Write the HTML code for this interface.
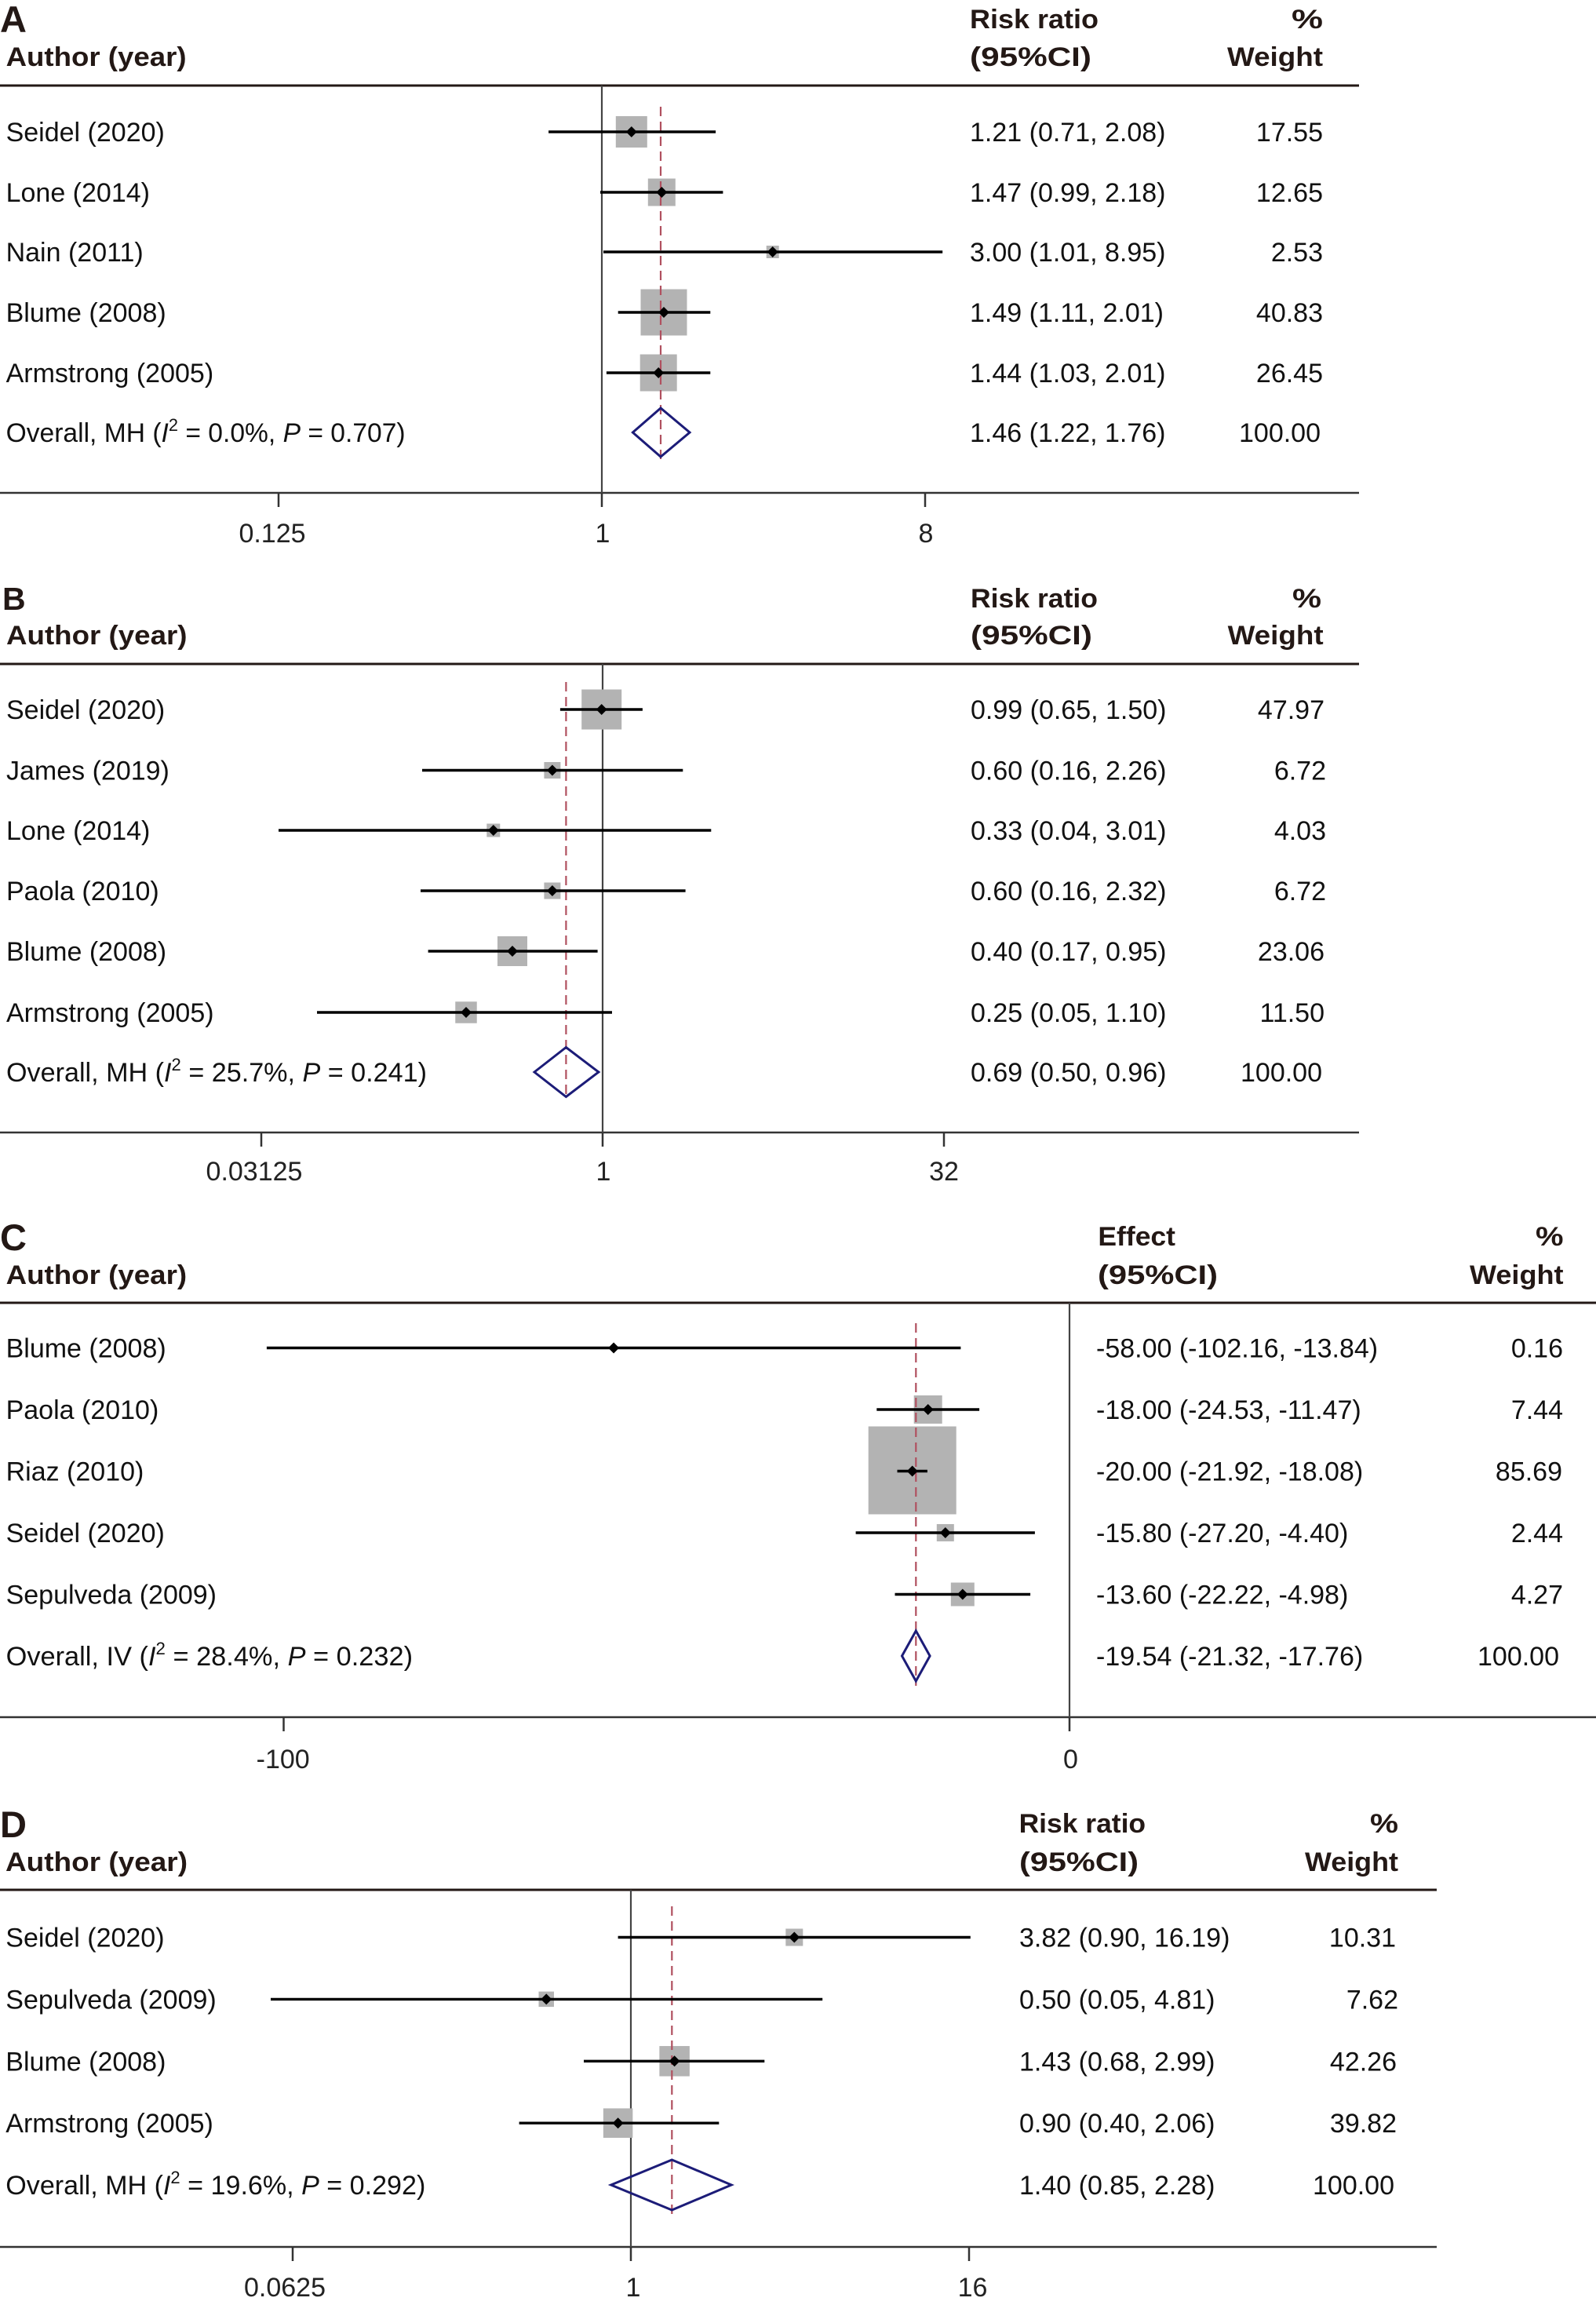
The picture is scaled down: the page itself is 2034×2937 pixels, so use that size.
<!DOCTYPE html>
<html><head><meta charset="utf-8"><style>
html,body{margin:0;padding:0;background:#fff;}
svg{display:block;}
text{font-family:"Liberation Sans",Arial,sans-serif;font-size:34px;fill:#111;}
.h{font-weight:bold;fill:#231815;}
.w{text-anchor:end;}
.t{text-anchor:middle;fill:#222;}
.ln{stroke:#231815;stroke-width:3;}
.ax{stroke:#333;stroke-width:2.5;}
.nl{stroke:#444;stroke-width:2.2;}
.ci{stroke:#000;stroke-width:3.4;}
.bx{fill:#b3b3b3;}
.ds{stroke:#b0505f;stroke-width:2.2;stroke-dasharray:12 7;}
.dm{fill:none;stroke:#1c1c78;stroke-width:3;}
.mk{fill:#000;}
.it{font-style:italic;}
.sup{font-size:22px;}
</style></head><body>
<svg width="2034" height="2937" viewBox="0 0 2034 2937" xmlns="http://www.w3.org/2000/svg">
<rect width="2034" height="2937" fill="#fff"/>

<!-- ========== PANEL A ========== -->
<text class="h" x="0" y="41" style="font-size:47px">A</text>
<text class="h" x="7.6" y="84" textLength="230" lengthAdjust="spacingAndGlyphs">Author (year)</text>
<text class="h" x="1236" y="36" textLength="164" lengthAdjust="spacingAndGlyphs">Risk ratio</text>
<text class="h" x="1236" y="84" textLength="155" lengthAdjust="spacingAndGlyphs">(95%CI)</text>
<text class="h" x="1646" y="36" textLength="40" lengthAdjust="spacingAndGlyphs">%</text>
<text class="h" x="1564" y="84" textLength="122" lengthAdjust="spacingAndGlyphs">Weight</text>
<line class="ln" x1="0" y1="109" x2="1732" y2="109"/>
<line class="ax" x1="0" y1="628" x2="1732" y2="628"/>
<line class="nl" x1="767" y1="109" x2="767" y2="628"/>
<line class="ax" x1="355" y1="628" x2="355" y2="646"/>
<line class="ax" x1="767" y1="628" x2="767" y2="646"/>
<line class="ax" x1="1179" y1="628" x2="1179" y2="646"/>
<text class="t" x="347" y="691">0.125</text>
<text class="t" x="768" y="691">1</text>
<text class="t" x="1180" y="691">8</text>
<rect class="bx" x="784.8" y="148" width="40" height="40"/>
<rect class="bx" x="825.8" y="227.5" width="35" height="35"/>
<rect class="bx" x="976.7" y="313" width="16" height="16"/>
<rect class="bx" x="816.5" y="368.5" width="59" height="59"/>
<rect class="bx" x="815.7" y="451.5" width="47" height="47"/>
<line class="ds" x1="842" y1="136" x2="842" y2="589"/>
<line class="ci" x1="699.1" y1="168" x2="912.1" y2="168"/>
<line class="ci" x1="765" y1="245" x2="921.4" y2="245"/>
<line class="ci" x1="769" y1="321" x2="1201.2" y2="321"/>
<line class="ci" x1="787.7" y1="398" x2="905.3" y2="398"/>
<line class="ci" x1="772.9" y1="475" x2="905.3" y2="475"/>
<polygon class="mk" points="797.8,168 804.8,161 811.8,168 804.8,175"/>
<polygon class="mk" points="836.3,245 843.3,238 850.3,245 843.3,252"/>
<polygon class="mk" points="977.7,321 984.7,314 991.7,321 984.7,328"/>
<polygon class="mk" points="839,398 846,391 853,398 846,405"/>
<polygon class="mk" points="832.2,475 839.2,468 846.2,475 839.2,482"/>
<polygon class="dm" points="806.4,551 842,520 879,551 842,582"/>
<text x="7.6" y="180">Seidel (2020)</text>
<text x="7.6" y="257">Lone (2014)</text>
<text x="7.6" y="333">Nain (2011)</text>
<text x="7.6" y="410">Blume (2008)</text>
<text x="7.6" y="487">Armstrong (2005)</text>
<text x="7.6" y="563" textLength="509" lengthAdjust="spacingAndGlyphs">Overall, MH (<tspan class="it">I</tspan><tspan class="sup" dy="-14">2</tspan><tspan dy="14"> = 0.0%, </tspan><tspan class="it">P</tspan> = 0.707)</text>
<text x="1236" y="180">1.21 (0.71, 2.08)</text>
<text x="1236" y="257">1.47 (0.99, 2.18)</text>
<text x="1236" y="333">3.00 (1.01, 8.95)</text>
<text x="1236" y="410">1.49 (1.11, 2.01)</text>
<text x="1236" y="487">1.44 (1.03, 2.01)</text>
<text x="1236" y="563">1.46 (1.22, 1.76)</text>
<text class="w" x="1686" y="180">17.55</text>
<text class="w" x="1686" y="257">12.65</text>
<text class="w" x="1686" y="333">2.53</text>
<text class="w" x="1686" y="410">40.83</text>
<text class="w" x="1686" y="487">26.45</text>
<text class="w" x="1683" y="563">100.00</text>

<!-- ========== PANEL B ========== -->
<text class="h" x="3" y="777" style="font-size:41px">B</text>
<text class="h" x="8" y="821" textLength="230.5" lengthAdjust="spacingAndGlyphs">Author (year)</text>
<text class="h" x="1237" y="774" textLength="162" lengthAdjust="spacingAndGlyphs">Risk ratio</text>
<text class="h" x="1237" y="821" textLength="155" lengthAdjust="spacingAndGlyphs">(95%CI)</text>
<text class="h" x="1647" y="774" textLength="37" lengthAdjust="spacingAndGlyphs">%</text>
<text class="h" x="1564.6" y="821" textLength="122" lengthAdjust="spacingAndGlyphs">Weight</text>
<line class="ln" x1="0" y1="846" x2="1732" y2="846"/>
<line class="ax" x1="0" y1="1443" x2="1732" y2="1443"/>
<line class="nl" x1="768" y1="846" x2="768" y2="1443"/>
<line class="ax" x1="333" y1="1443" x2="333" y2="1461"/>
<line class="ax" x1="768" y1="1443" x2="768" y2="1461"/>
<line class="ax" x1="1203" y1="1443" x2="1203" y2="1461"/>
<text class="t" x="324" y="1504">0.03125</text>
<text class="t" x="769" y="1504">1</text>
<text class="t" x="1203" y="1504">32</text>
<rect class="bx" x="741.2" y="878.5" width="51" height="51"/>
<rect class="bx" x="693.4" y="971" width="21" height="21"/>
<rect class="bx" x="620.3" y="1049.5" width="17" height="17"/>
<rect class="bx" x="693.4" y="1124.5" width="21" height="21"/>
<rect class="bx" x="634" y="1193" width="38" height="38"/>
<rect class="bx" x="580.25" y="1276.25" width="27.5" height="27.5"/>
<line class="ds" x1="721.4" y1="869" x2="721.4" y2="1396"/>
<line class="ci" x1="713.9" y1="904" x2="818.9" y2="904"/>
<line class="ci" x1="538" y1="981.5" x2="870.3" y2="981.5"/>
<line class="ci" x1="355" y1="1058" x2="906.3" y2="1058"/>
<line class="ci" x1="536" y1="1135" x2="873.6" y2="1135"/>
<line class="ci" x1="545.6" y1="1212" x2="761.6" y2="1212"/>
<line class="ci" x1="404" y1="1290" x2="780" y2="1290"/>
<polygon class="mk" points="759.7,904 766.7,897 773.7,904 766.7,911"/>
<polygon class="mk" points="696.9,981.5 703.9,974.5 710.9,981.5 703.9,988.5"/>
<polygon class="mk" points="621.8,1058 628.8,1051 635.8,1058 628.8,1065"/>
<polygon class="mk" points="696.9,1135 703.9,1128 710.9,1135 703.9,1142"/>
<polygon class="mk" points="646,1212 653,1205 660,1212 653,1219"/>
<polygon class="mk" points="587,1290 594,1283 601,1290 594,1297"/>
<polygon class="dm" points="681,1366 721.4,1334.5 762.9,1366 721.4,1397.5"/>
<text x="8" y="916">Seidel (2020)</text>
<text x="8" y="993.5">James (2019)</text>
<text x="8" y="1070">Lone (2014)</text>
<text x="8" y="1147">Paola (2010)</text>
<text x="8" y="1224">Blume (2008)</text>
<text x="8" y="1302">Armstrong (2005)</text>
<text x="8" y="1378" textLength="536" lengthAdjust="spacingAndGlyphs">Overall, MH (<tspan class="it">I</tspan><tspan class="sup" dy="-14">2</tspan><tspan dy="14"> = 25.7%, </tspan><tspan class="it">P</tspan> = 0.241)</text>
<text x="1237" y="916">0.99 (0.65, 1.50)</text>
<text x="1237" y="993.5">0.60 (0.16, 2.26)</text>
<text x="1237" y="1070">0.33 (0.04, 3.01)</text>
<text x="1237" y="1147">0.60 (0.16, 2.32)</text>
<text x="1237" y="1224">0.40 (0.17, 0.95)</text>
<text x="1237" y="1302">0.25 (0.05, 1.10)</text>
<text x="1237" y="1378">0.69 (0.50, 0.96)</text>
<text class="w" x="1688" y="916">47.97</text>
<text class="w" x="1690" y="993.5">6.72</text>
<text class="w" x="1690" y="1070">4.03</text>
<text class="w" x="1690" y="1147">6.72</text>
<text class="w" x="1688" y="1224">23.06</text>
<text class="w" x="1688" y="1302">11.50</text>
<text class="w" x="1685" y="1378">100.00</text>

<!-- ========== PANEL C ========== -->
<text class="h" x="0" y="1593" style="font-size:47px">C</text>
<text class="h" x="7.6" y="1636" textLength="230.5" lengthAdjust="spacingAndGlyphs">Author (year)</text>
<text class="h" x="1399.4" y="1587" textLength="98.6" lengthAdjust="spacingAndGlyphs">Effect</text>
<text class="h" x="1399" y="1636" textLength="153" lengthAdjust="spacingAndGlyphs">(95%CI)</text>
<text class="h" x="1957" y="1587" textLength="35.5" lengthAdjust="spacingAndGlyphs">%</text>
<text class="h" x="1873" y="1636" textLength="119.5" lengthAdjust="spacingAndGlyphs">Weight</text>
<line class="ln" x1="0" y1="1660" x2="2034" y2="1660"/>
<line class="ax" x1="0" y1="2188" x2="2034" y2="2188"/>
<line class="nl" x1="1363" y1="1660" x2="1363" y2="2188"/>
<line class="ax" x1="361.5" y1="2188" x2="361.5" y2="2206"/>
<line class="ax" x1="1363" y1="2188" x2="1363" y2="2206"/>
<text class="t" x="360.7" y="2253">-100</text>
<text class="t" x="1364.5" y="2253">0</text>
<rect class="bx" x="779.1" y="1714.5" width="6" height="6"/>
<rect class="bx" x="1164.7" y="1778" width="36" height="36"/>
<rect class="bx" x="1106.7" y="1817.5" width="112" height="112"/>
<rect class="bx" x="1193.8" y="1942" width="22" height="22"/>
<rect class="bx" x="1211.8" y="2016.5" width="30" height="30"/>
<line class="ds" x1="1167.3" y1="1686" x2="1167.3" y2="2148"/>
<line class="ci" x1="339.9" y1="1717.5" x2="1224.4" y2="1717.5"/>
<line class="ci" x1="1117.3" y1="1796" x2="1248.1" y2="1796"/>
<line class="ci" x1="1143.5" y1="1874.5" x2="1181.9" y2="1874.5"/>
<line class="ci" x1="1090.6" y1="1953" x2="1318.9" y2="1953"/>
<line class="ci" x1="1140.5" y1="2031.5" x2="1313.1" y2="2031.5"/>
<polygon class="mk" points="775.1,1717.5 782.1,1710.5 789.1,1717.5 782.1,1724.5"/>
<polygon class="mk" points="1175.7,1796 1182.7,1789 1189.7,1796 1182.7,1803"/>
<polygon class="mk" points="1155.7,1874.5 1162.7,1867.5 1169.7,1874.5 1162.7,1881.5"/>
<polygon class="mk" points="1197.8,1953 1204.8,1946 1211.8,1953 1204.8,1960"/>
<polygon class="mk" points="1219.8,2031.5 1226.8,2024.5 1233.8,2031.5 1226.8,2038.5"/>
<polygon class="dm" points="1149.5,2110 1167.3,2078 1185.1,2110 1167.3,2142"/>
<text x="7.6" y="1729.5">Blume (2008)</text>
<text x="7.6" y="1808">Paola (2010)</text>
<text x="7.6" y="1886.5">Riaz (2010)</text>
<text x="7.6" y="1965">Seidel (2020)</text>
<text x="7.6" y="2043.5">Sepulveda (2009)</text>
<text x="7.6" y="2122" textLength="518.5" lengthAdjust="spacingAndGlyphs">Overall, IV (<tspan class="it">I</tspan><tspan class="sup" dy="-14">2</tspan><tspan dy="14"> = 28.4%, </tspan><tspan class="it">P</tspan> = 0.232)</text>
<text x="1397" y="1729.5">-58.00 (-102.16, -13.84)</text>
<text x="1397" y="1808">-18.00 (-24.53, -11.47)</text>
<text x="1397" y="1886.5">-20.00 (-21.92, -18.08)</text>
<text x="1397" y="1965">-15.80 (-27.20, -4.40)</text>
<text x="1397" y="2043.5">-13.60 (-22.22, -4.98)</text>
<text x="1397" y="2122">-19.54 (-21.32, -17.76)</text>
<text class="w" x="1992" y="1729.5">0.16</text>
<text class="w" x="1992" y="1808">7.44</text>
<text class="w" x="1991" y="1886.5">85.69</text>
<text class="w" x="1992" y="1965">2.44</text>
<text class="w" x="1992" y="2043.5">4.27</text>
<text class="w" x="1987" y="2122">100.00</text>

<!-- ========== PANEL D ========== -->
<text class="h" x="0" y="2341" style="font-size:47px">D</text>
<text class="h" x="7" y="2384" textLength="232" lengthAdjust="spacingAndGlyphs">Author (year)</text>
<text class="h" x="1298.6" y="2335" textLength="161.5" lengthAdjust="spacingAndGlyphs">Risk ratio</text>
<text class="h" x="1299" y="2384" textLength="152" lengthAdjust="spacingAndGlyphs">(95%CI)</text>
<text class="h" x="1746" y="2335" textLength="36" lengthAdjust="spacingAndGlyphs">%</text>
<text class="h" x="1663" y="2384" textLength="119" lengthAdjust="spacingAndGlyphs">Weight</text>
<line class="ln" x1="0" y1="2408" x2="1831" y2="2408"/>
<line class="ax" x1="0" y1="2863" x2="1831" y2="2863"/>
<line class="nl" x1="804" y1="2408" x2="804" y2="2863"/>
<line class="ax" x1="373" y1="2863" x2="373" y2="2881"/>
<line class="ax" x1="804" y1="2863" x2="804" y2="2881"/>
<line class="ax" x1="1235" y1="2863" x2="1235" y2="2881"/>
<text class="t" x="363" y="2926">0.0625</text>
<text class="t" x="807" y="2926">1</text>
<text class="t" x="1239.5" y="2926">16</text>
<rect class="bx" x="1001.3" y="2457.5" width="22" height="22"/>
<rect class="bx" x="686.5" y="2537.6" width="19.5" height="19.5"/>
<rect class="bx" x="840.35" y="2607.05" width="38.5" height="38.5"/>
<rect class="bx" x="768.85" y="2686.45" width="37.5" height="37.5"/>
<line class="ds" x1="856.3" y1="2429" x2="856.3" y2="2822"/>
<line class="ci" x1="787.6" y1="2468.5" x2="1236.8" y2="2468.5"/>
<line class="ci" x1="345" y1="2547.4" x2="1048.2" y2="2547.4"/>
<line class="ci" x1="744" y1="2626.3" x2="974.3" y2="2626.3"/>
<line class="ci" x1="661.6" y1="2705.2" x2="916.3" y2="2705.2"/>
<polygon class="mk" points="1005.3,2468.5 1012.3,2461.5 1019.3,2468.5 1012.3,2475.5"/>
<polygon class="mk" points="689.25,2547.4 696.25,2540.4 703.25,2547.4 696.25,2554.4"/>
<polygon class="mk" points="852.6,2626.3 859.6,2619.3 866.6,2626.3 859.6,2633.3"/>
<polygon class="mk" points="780.6,2705.2 787.6,2698.2 794.6,2705.2 787.6,2712.2"/>
<polygon class="dm" points="778.7,2784 856.3,2752 932.1,2784 856.3,2816"/>
<text x="7.3" y="2480.5">Seidel (2020)</text>
<text x="7.3" y="2559.4">Sepulveda (2009)</text>
<text x="7.3" y="2638.3">Blume (2008)</text>
<text x="7.3" y="2717.2">Armstrong (2005)</text>
<text x="7.3" y="2796" textLength="535" lengthAdjust="spacingAndGlyphs">Overall, MH (<tspan class="it">I</tspan><tspan class="sup" dy="-14">2</tspan><tspan dy="14"> = 19.6%, </tspan><tspan class="it">P</tspan> = 0.292)</text>
<text x="1299" y="2480.5">3.82 (0.90, 16.19)</text>
<text x="1299" y="2559.4">0.50 (0.05, 4.81)</text>
<text x="1299" y="2638.3">1.43 (0.68, 2.99)</text>
<text x="1299" y="2717.2">0.90 (0.40, 2.06)</text>
<text x="1299" y="2796">1.40 (0.85, 2.28)</text>
<text class="w" x="1779" y="2480.5">10.31</text>
<text class="w" x="1782" y="2559.4">7.62</text>
<text class="w" x="1780" y="2638.3">42.26</text>
<text class="w" x="1780" y="2717.2">39.82</text>
<text class="w" x="1777" y="2796">100.00</text>
</svg>
</body></html>
